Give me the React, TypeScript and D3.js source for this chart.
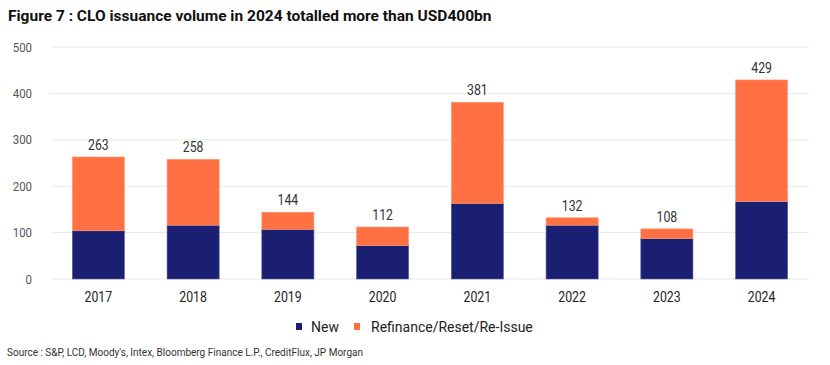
import React from "react";
import * as d3 from "d3";

const years = ["2017", "2018", "2019", "2020", "2021", "2022", "2023", "2024"];
const newIssue = [104, 116, 107, 72, 163, 116, 87, 167];
const totals = [263, 258, 144, 112, 381, 132, 108, 429];
const refinance = totals.map((t, i) => t - newIssue[i]);
const yTicks = [0, 100, 200, 300, 400, 500];

const W = 830;
const H = 365;
const margin = { top: 47, right: 21, bottom: 86, left: 51 };
const NAVY = "#1a1f71";
const ORANGE = "#ff7043";
const FONT = "Roboto, sans-serif";

// narrow text: roboto squeezed horizontally, the reference font is condensed
function NText({ x, y, sx = 0.8, anchor = "start", size, fill, children }: any) {
  return (
    <text
      transform={`translate(${x},${y}) scale(${sx},1)`}
      textAnchor={anchor}
      fontFamily={FONT}
      fontSize={size}
      fill={fill}
    >
      {children}
    </text>
  );
}

export default function App() {
  const x = d3
    .scaleBand()
    .domain(years)
    .range([margin.left, W - margin.right])
    .paddingInner(0.45)
    .paddingOuter(0.225);
  const y = d3.scaleLinear().domain([0, 500]).range([H - margin.bottom, margin.top]);

  const rows = years.map((yr, i) => ({ yr, n: newIssue[i], r: refinance[i], t: totals[i] }));

  return (
    <svg width={W} height={H} style={{ position: "absolute", left: 0, top: 0, background: "#fff" }}>
      <text x={8} y={21} fontFamily={FONT} fontWeight="bold" fontSize={15.5} fill="#111">
        Figure 7 : CLO issuance volume in 2024 totalled more than USD400bn
      </text>

      {/* grid + y labels */}
      {yTicks.map((t) => (
        <g key={t}>
          <line x1={margin.left} x2={W - margin.right} y1={y(t)} y2={y(t)} stroke="#e8e8e8" strokeWidth={1} />
          <NText x={32} y={y(t) + 4.5} anchor="end" sx={0.88} size={13} fill="#555">
            {t}
          </NText>
        </g>
      ))}

      {rows.map((d) => {
        const cx = (x(d.yr) as number) + x.bandwidth() / 2;
        return (
          <g key={d.yr}>
            <rect
              x={x(d.yr)}
              y={y(d.n)}
              width={x.bandwidth()}
              height={y(0) - y(d.n)}
              fill={NAVY}
              stroke="#5b5f9c"
              strokeWidth={0.6}
            />
            <rect
              x={x(d.yr)}
              y={y(d.t)}
              width={x.bandwidth()}
              height={y(d.n) - y(d.t)}
              fill={ORANGE}
              stroke="#ff9a78"
              strokeWidth={0.6}
            />
            <NText x={cx} y={y(d.t) - 7} anchor="middle" sx={0.82} size={15} fill="#333">
              {d.t}
            </NText>
            <NText x={cx} y={y(0) + 23} anchor="middle" sx={0.82} size={15} fill="#222">
              {d.yr}
            </NText>
          </g>
        );
      })}

      {/* legend */}
      <rect x={296} y={323} width={6} height={7} fill={NAVY} />
      <text x={311} y={331.5} fontFamily={FONT} fontSize={14} fill="#222">
        New
      </text>
      <rect x={354} y={323} width={6} height={7} fill={ORANGE} />
      <text x={371} y={331.5} fontFamily={FONT} fontSize={14} fill="#222">
        Refinance/Reset/Re-Issue
      </text>

      <text x={7} y={355.5} fontFamily={FONT} fontSize={10} fill="#333">
        Source : S&amp;P, LCD, Moody's, Intex, Bloomberg Finance L.P., CreditFlux, JP Morgan
      </text>
    </svg>
  );
}
